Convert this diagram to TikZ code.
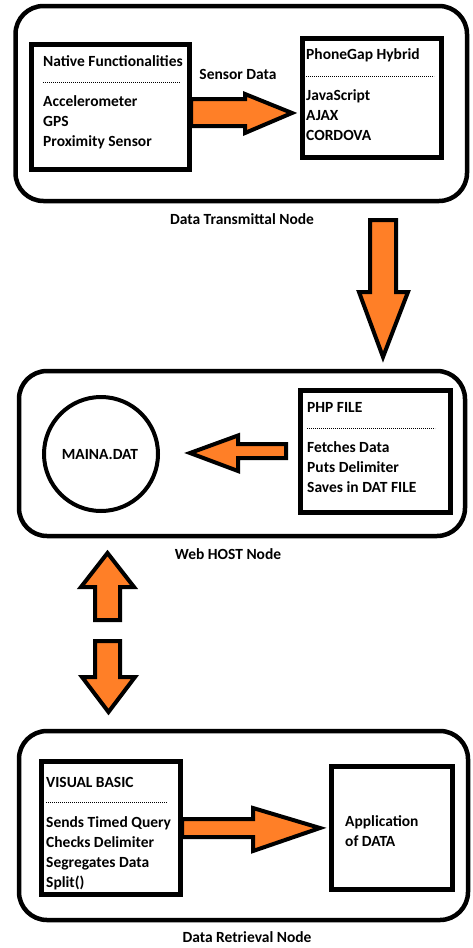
\documentclass[tikz,border=0pt]{standalone}
\usepackage{fontspec}
\setmainfont{Carlito}
\definecolor{arrorange}{RGB}{255,127,39}
\tikzset{
  outerbox/.style={draw, line width=4.5pt, rounded corners=28pt},
  innerbox/.style={draw, line width=5pt},
  blockarrow/.style={draw, line width=4pt, fill=arrorange, line join=miter, miter limit=4},
  txt/.style={font=\fontsize{15.5}{18}\selectfont\bfseries, anchor=west, inner sep=0pt, text height=11.5pt, text depth=3.5pt},
  ctxt/.style={font=\fontsize{15.5}{18}\selectfont\bfseries, inner sep=0pt, text height=11.5pt, text depth=3.5pt},
  sepline/.style={line width=0.7pt, dash pattern=on 1.2pt off 0.8pt}
}
\begin{document}
\begin{tikzpicture}[x=1pt,y=-1pt]
\useasboundingbox (0,0) rectangle (472,948);
\fill[white] (0,0) rectangle (472,948);

% ---------- Top section ----------
\draw[outerbox] (15.5,6) rectangle (467,201);
\draw[innerbox] (31.5,44.5) rectangle (189.5,169.5);
\node[txt] (nat) at (43,62) {Native Functionalities};
\draw[sepline] (43,82) -- (180,82);
\node[txt] (acc) at (43,102) {Accelerometer};
\node[txt] (gps) at (43,122) {GPS};
\node[txt] (prox) at (43,142) {Proximity Sensor};

\draw[innerbox] (302.5,38.5) rectangle (441.5,157.5);
\node[txt] (pg) at (306,55) {PhoneGap Hybrid};
\draw[sepline] (306,76) -- (434,76);
\node[txt] (js) at (306,96) {JavaScript};
\node[txt] (ajax) at (306,116) {AJAX};
\node[txt] (cord) at (306,136) {CORDOVA};

\node[ctxt] (sd) at (238,75) {Sensor Data};
\draw[blockarrow] (191,99) -- (245,99) -- (245,94) -- (292,113) -- (245,133) -- (245,126) -- (191,126) -- cycle;

\node[ctxt] (dtn) at (242,220) {Data Transmittal Node};

% down arrow
\draw[blockarrow] (370,220) -- (396,220) -- (396,292) -- (408,292) -- (383,357) -- (359,292) -- (370,292) -- cycle;

% ---------- Middle section ----------
\draw[outerbox] (19,371) rectangle (465,536);
\draw[line width=4pt] (101,454) circle (57);
\node[ctxt] (maina) at (100,455) {MAINA.DAT};

\draw[innerbox] (300.5,390.5) rectangle (450.5,512.5);
\node[txt] (php) at (307,408) {PHP FILE};
\draw[sepline] (307,428) -- (435,428);
\node[txt] (fd) at (307,448) {Fetches Data};
\node[txt] (pd) at (307,468) {Puts Delimiter};
\node[txt] (sdf) at (307,488) {Saves in DAT FILE};

\draw[blockarrow] (286,444) -- (238,444) -- (238,435.5) -- (190,453) -- (238,471) -- (238,458) -- (286,458) -- cycle;

\node[ctxt] (whn) at (228,555) {Web HOST Node};

% up / down arrows
\draw[blockarrow] (95,620) -- (95,587) -- (81,587) -- (107.5,553) -- (134,587) -- (120,587) -- (120,620) -- cycle;
\draw[blockarrow] (95,641) -- (120,641) -- (120,677) -- (135,677) -- (108.5,712) -- (82,677) -- (95,677) -- cycle;

% ---------- Bottom section ----------
\draw[outerbox] (19,731) rectangle (468,920);
\draw[innerbox] (41.5,761.5) rectangle (180.5,894.5);
\node[txt] (vb) at (46,783) {VISUAL BASIC};
\draw[sepline] (46,802) -- (167,802);
\node[txt] (stq) at (46,823) {Sends Timed Query};
\node[txt] (cd) at (46,843) {Checks Delimiter};
\node[txt] (sgd) at (46,863) {Segregates Data};
\node[txt] (spl) at (46,883) {Split()};

\draw[innerbox] (331.5,766.5) rectangle (452.5,889.5);
\node[txt] (app) at (345,822) {Application};
\node[txt] (ofd) at (345,842) {of DATA};

\draw[blockarrow] (182,819) -- (253,819) -- (253,808) -- (320,828) -- (253,851) -- (253,837) -- (182,837) -- cycle;

\node[ctxt] (drn) at (247,938) {Data Retrieval Node};
\end{tikzpicture}
\end{document}
